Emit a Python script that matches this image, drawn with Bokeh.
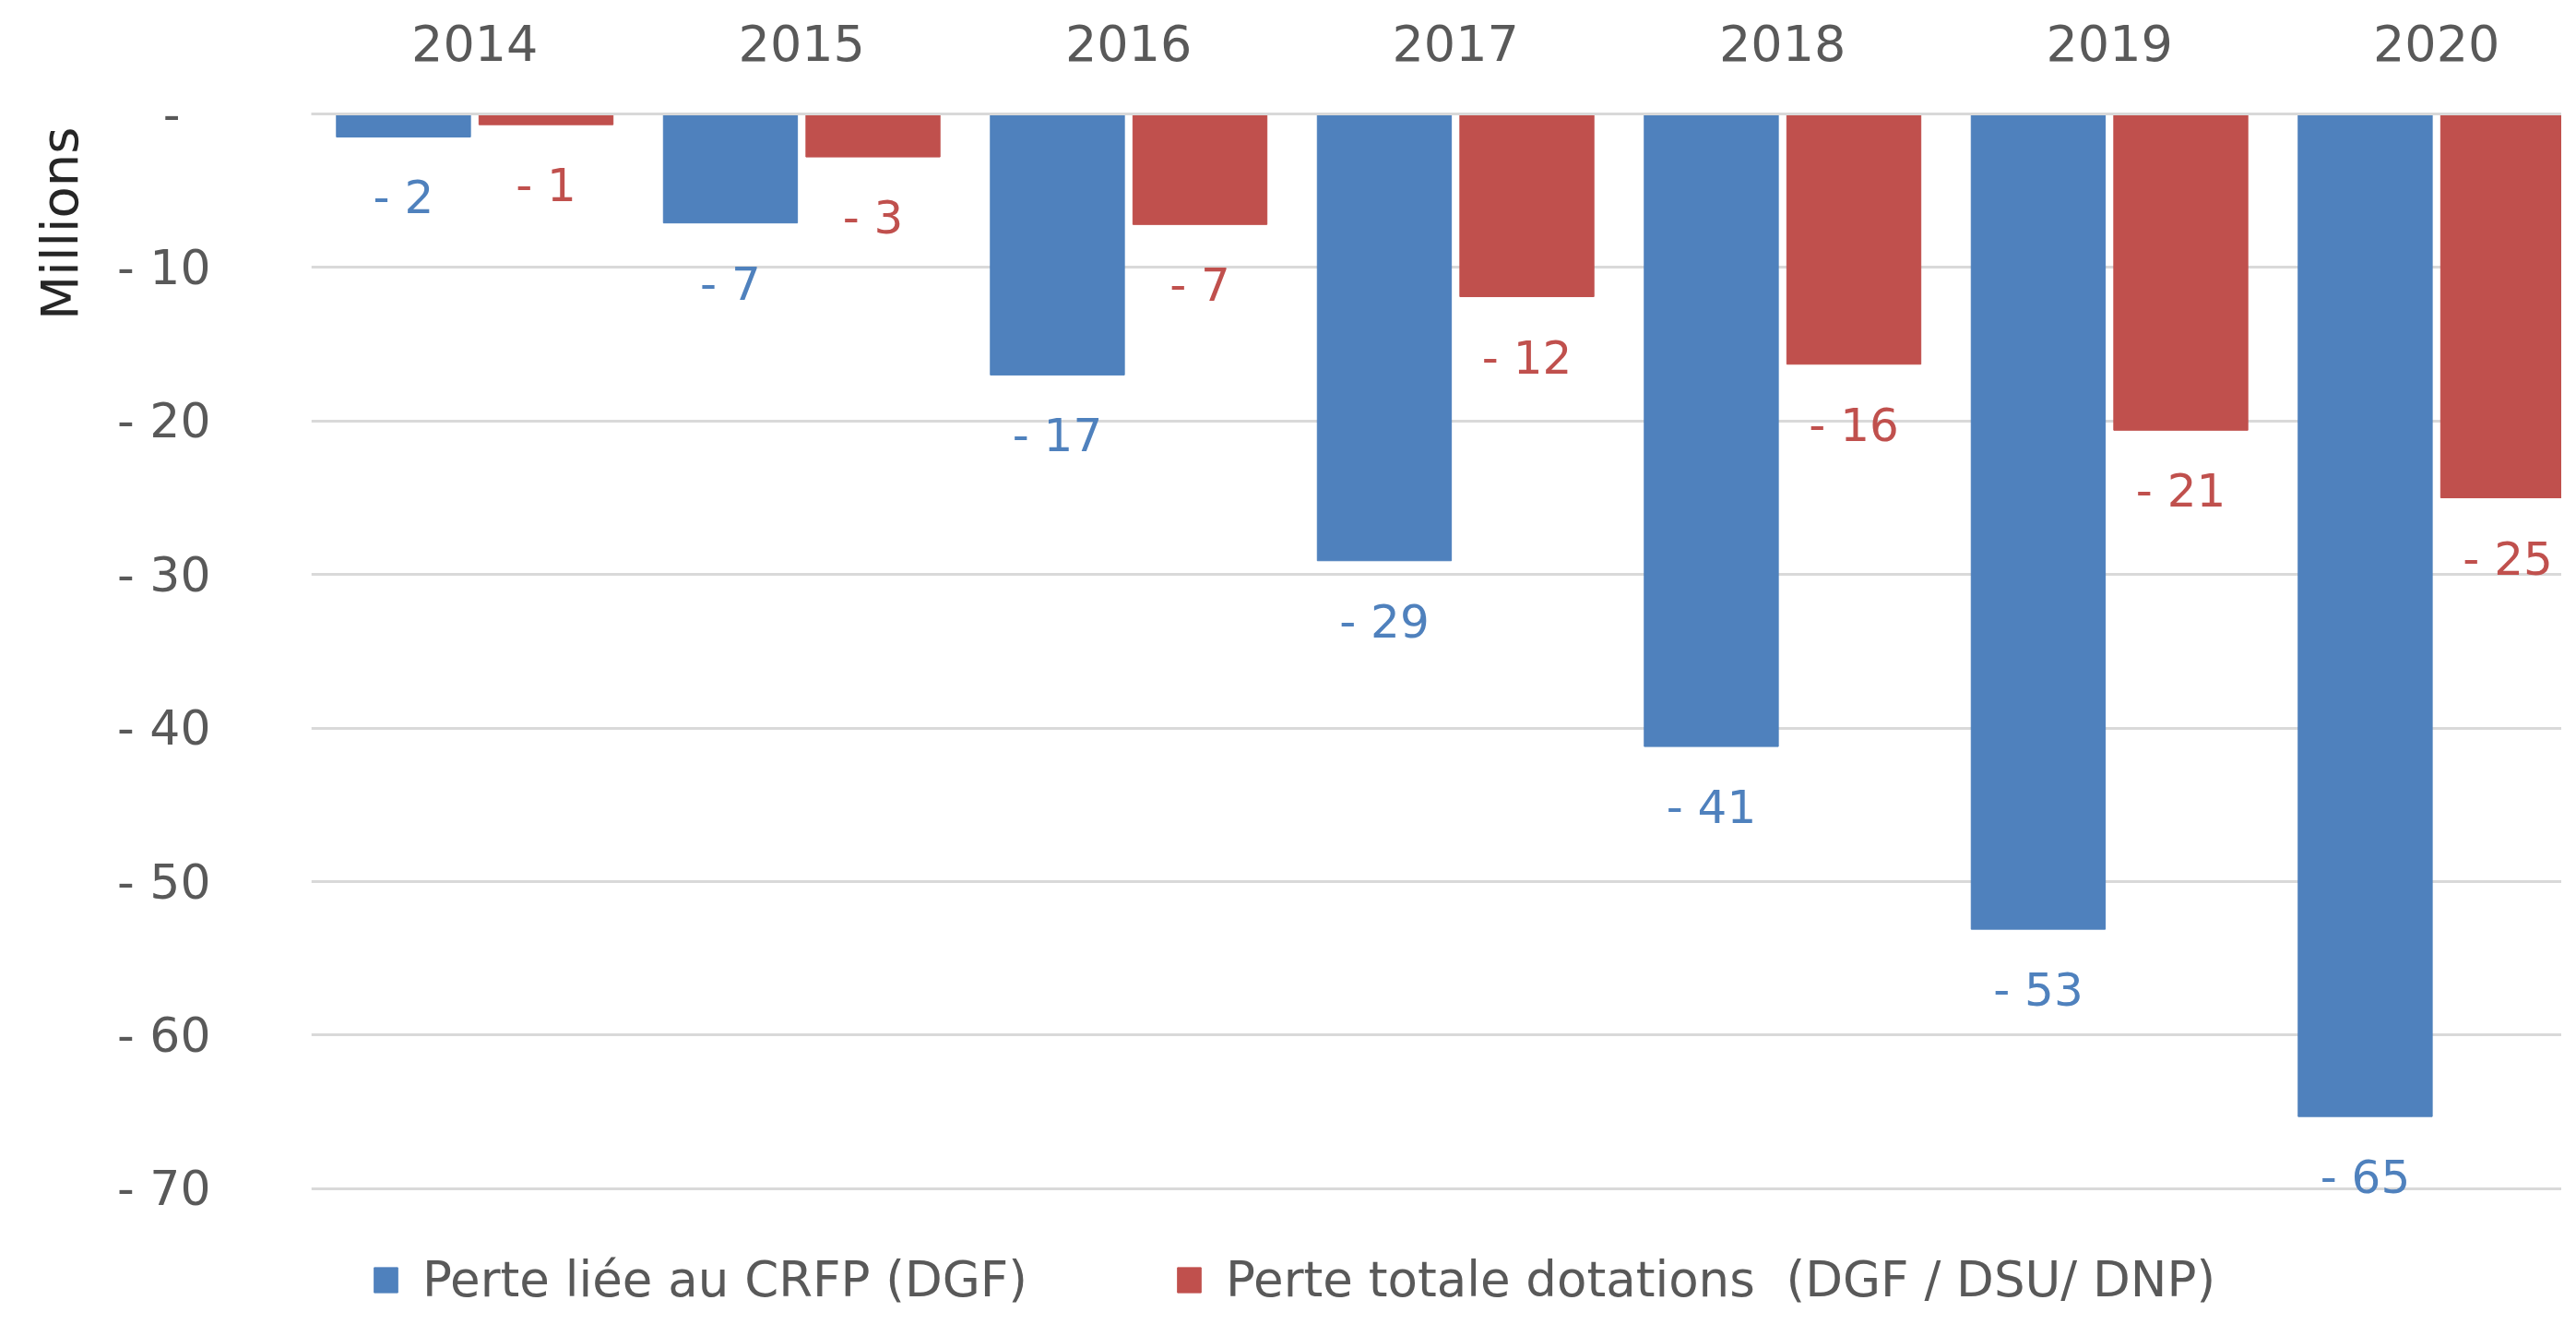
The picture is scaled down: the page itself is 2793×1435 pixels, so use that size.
import math
from bokeh.plotting import figure
from bokeh.models import ColumnDataSource, Range1d, FixedTicker, Legend, LegendItem, Title
from bokeh.transform import dodge
from bokeh.core.properties import value
from bokeh.embed import file_html
from bokeh.resources import INLINE

# ---- data ----
years = ["2014", "2015", "2016", "2017", "2018", "2019", "2020"]
perte_crfp = [-1.5, -7.1, -17.0, -29.1, -41.2, -53.1, -65.3]      # Perte liée au CRFP (DGF)
perte_totale = [-0.7, -2.8, -7.2, -11.9, -16.3, -20.6, -25.0]    # Perte totale dotations
y_ticks = [0, -10, -20, -30, -40, -50, -60, -70]
series_names = ["Perte liée au CRFP (DGF)", "Perte totale dotations  (DGF / DSU/ DNP)"]
y_title = "Millions"

BLUE = "#4F81BD"
RED = "#C0504D"
GREY = "#595959"
FONT = "DejaVu Sans"


def fmt(v):
    r = int(math.floor(abs(v) + 0.5))
    return "-" if r == 0 else f"- {r}"


src = ColumnDataSource(dict(
    x=list(range(len(years))),
    blue=perte_crfp,
    red=perte_totale,
    blue_lbl=[fmt(v) for v in perte_crfp],
    red_lbl=[fmt(v) for v in perte_totale],
))

p = figure(width=2777, height=1419,
           x_range=Range1d(-0.5, 6.383), y_range=Range1d(-77.88, 0),
           x_axis_location="above", output_backend="svg", toolbar_location=None,
           min_border_left=337, min_border_right=0, min_border_top=123, min_border_bottom=0)
p.outline_line_color = None
p.background_fill_color = "white"

# grid
p.xgrid.grid_line_color = None
p.ygrid.ticker = FixedTicker(ticks=y_ticks)
p.ygrid.grid_line_color = "#D9D9D9"
p.ygrid.grid_line_width = 3

# y axis
p.yaxis.ticker = FixedTicker(ticks=y_ticks)
p.yaxis.major_label_overrides = {t: ("-\u00a0\u00a0" if t == 0 else fmt(t)) for t in y_ticks}
p.yaxis.axis_line_color = None
p.yaxis.major_tick_line_color = None
p.yaxis.minor_tick_line_color = None
p.yaxis.major_label_standoff = 103
p.yaxis.major_label_text_font = FONT
p.yaxis.major_label_text_font_size = "52px"
p.yaxis.major_label_text_color = GREY

# x axis (years on top)
p.xaxis.ticker = FixedTicker(ticks=list(range(len(years))))
p.xaxis.major_label_overrides = {i: y for i, y in enumerate(years)}
p.xaxis.axis_line_color = "#D9D9D9"
p.xaxis.axis_line_width = 3
p.xaxis.major_tick_line_color = None
p.xaxis.minor_tick_line_color = None
p.xaxis.major_label_standoff = 52
p.xaxis.major_label_text_font = FONT
p.xaxis.major_label_text_font_size = "54px"
p.xaxis.major_label_text_color = GREY

off = 0.218
bw = 0.41
r1 = p.vbar(x=dodge("x", -off), top=0, bottom="blue", width=bw, source=src,
            fill_color=BLUE, line_color=BLUE)
r2 = p.vbar(x=dodge("x", off), top=0, bottom="red", width=bw, source=src,
            fill_color=RED, line_color=RED)

p.text(x=dodge("x", -off), y="blue", text="blue_lbl", source=src,
       text_align="center", text_baseline="middle", y_offset=66,
       text_font=value(FONT), text_font_size="50px", text_color=BLUE)
p.text(x=dodge("x", off), y="red", text="red_lbl", source=src,
       text_align="center", text_baseline="middle", y_offset=66,
       text_font=value(FONT), text_font_size="50px", text_color=RED)

# y-axis title "Millions" near the top of the left side
p.add_layout(Title(text=y_title, align="right", offset=14, standoff=56,
                   text_font=FONT, text_font_size="56px", text_font_style="normal",
                   text_color="#262626"), "left")

for r, name, loc in [(r1, series_names[0], (65, 2)), (r2, series_names[1], (936, 2))]:
    leg = Legend(items=[LegendItem(label=value(name), renderers=[r])], location=loc,
                 orientation="horizontal", padding=0, margin=0,
                 border_line_color=None, background_fill_alpha=0,
                 glyph_width=32, glyph_height=34, label_standoff=24,
                 label_text_font=FONT, label_text_font_size="53px",
                 label_text_color=GREY)
    p.add_layout(leg)

open("out.html", "w").write(file_html(p, INLINE))
